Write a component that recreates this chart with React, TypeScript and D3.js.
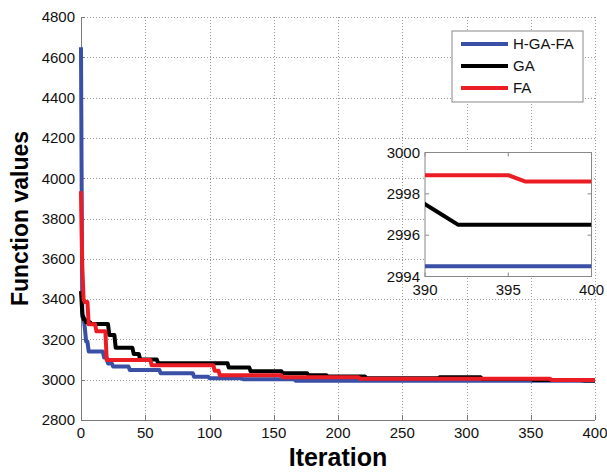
import React from 'react';
import * as d3 from 'd3';

// ---- data ----
const iterTicks = [0, 50, 100, 150, 200, 250, 300, 350, 400];
const valueTicks = [2800, 3000, 3200, 3400, 3600, 3800, 4000, 4200, 4400, 4600, 4800];
const insetIterTicks = [390, 395, 400];
const insetValueTicks = [2994, 2996, 2998, 3000];
const seriesNames = ['H-GA-FA', 'GA', 'FA'];

// change points [iteration, best function value]
const hgafa: [number, number][] = [
  [0, 4650], [1, 3313], [3, 3257], [4, 3189], [6, 3140], [18, 3110], [21, 3081],
  [25, 3065], [38, 3048], [62, 3032], [88, 3015], [100, 3007], [126, 3002], [167, 2994.5],
];
const ga: [number, number][] = [
  [0, 3440], [1, 3330], [2, 3300], [4, 3285], [8, 3276], [22, 3222], [27, 3158],
  [41, 3128], [46, 3100], [60, 3082], [115, 3060], [132, 3042], [157, 3032],
  [177, 3022], [192, 3016], [222, 3007], [279, 3012], [312, 3004], [352, 2998],
  [390, 2997.5], [391, 2997], [392, 2996.5],
];
const fa: [number, number][] = [
  [0, 3935], [1, 3560], [2, 3400], [3, 3385], [6, 3275], [12, 3240], [20, 3098],
  [55, 3072], [104, 3045], [108, 3022], [157, 3012], [217, 3005], [366, 2998.9],
  [396, 2998.6],
];
const lastIter = 400;

const colors = ['#3a4fa6', '#000000', '#ec1c24'];

function toVertices(pts: [number, number][]): [number, number][] {
  const out: [number, number][] = [pts[0]];
  for (let i = 1; i < pts.length; i++) {
    const [k, v] = pts[i];
    const prev = out[out.length - 1];
    if (k - 1 > prev[0]) out.push([k - 1, prev[1]]);
    out.push([k, v]);
  }
  const last = out[out.length - 1];
  if (last[0] < lastIter) out.push([lastIter, last[1]]);
  return out;
}

export default function App() {
  const W = 607, H = 473;
  const x = d3.scaleLinear().domain([0, 400]).range([81, 595]);
  const y = d3.scaleLinear().domain([2800, 4800]).range([420, 17]);
  const xi = d3.scaleLinear().domain([390, 400]).range([425, 591.5]);
  const yi = d3.scaleLinear().domain([2994, 3000]).range([276.5, 152.5]);

  const series = [hgafa, ga, fa].map(toVertices);
  const line = d3.line<[number, number]>().x(d => x(d[0])).y(d => y(d[1]));
  const lineI = d3.line<[number, number]>().x(d => xi(d[0])).y(d => yi(d[1]));

  const font = '"Liberation Sans", Arial, Helvetica, sans-serif';
  const grid = { stroke: '#9a9a9a', strokeWidth: 1, strokeDasharray: '1 2' };
  const axisColor = '#7a7a7a';

  return (
    <svg width={W} height={H} style={{ position: 'absolute', left: 0, top: 0, background: '#fff' }} fontFamily={font}>
      <defs>
        <clipPath id="insetClip">
          <rect x={xi(390)} y={yi(3000)} width={xi(400) - xi(390)} height={yi(2994) - yi(3000)} />
        </clipPath>
      </defs>
      {/* grid */}
      {iterTicks.filter(t => t > 0).map(t => (
        <line key={'gx' + t} x1={Math.round(x(t)) + 0.5} x2={Math.round(x(t)) + 0.5} y1={y(4800)} y2={y(2800)} {...grid} />
      ))}
      {valueTicks.filter(t => t > 2800).map(t => (
        <line key={'gy' + t} x1={x(0)} x2={x(400)} y1={Math.round(y(t)) + 0.5} y2={Math.round(y(t)) + 0.5} {...grid} />
      ))}
      {/* axes */}
      <line x1={x(0) + 0.5} x2={x(0) + 0.5} y1={y(4800)} y2={y(2800)} stroke={axisColor} />
      <line x1={x(0)} x2={x(400)} y1={y(2800) + 0.5} y2={y(2800) + 0.5} stroke={axisColor} />
      {valueTicks.map(t => (
        <g key={'ty' + t}>
          <line x1={x(0)} x2={x(0) + 4} y1={Math.round(y(t)) + 0.5} y2={Math.round(y(t)) + 0.5} stroke={axisColor} />
          <text x={75} y={y(t) + 5.3} textAnchor="end" fontSize={15} fill="#111">{t}</text>
        </g>
      ))}
      {iterTicks.map(t => (
        <g key={'tx' + t}>
          <line x1={Math.round(x(t)) + 0.5} x2={Math.round(x(t)) + 0.5} y1={y(2800)} y2={y(2800) - 5} stroke={axisColor} />
          <text x={x(t)} y={438} textAnchor="middle" fontSize={15} fill="#111">{t}</text>
        </g>
      ))}
      {/* series */}
      {series.map((s, i) => (
        <path key={'s' + i} d={line(s) || ''} fill="none" stroke={colors[i]} strokeWidth={4} strokeLinejoin="round" />
      ))}
      {/* axis titles */}
      <text x={338} y={466} textAnchor="middle" fontSize={25} fontWeight="bold" fill="#000">Iteration</text>
      <text transform={`translate(28,${(y(4800) + y(2800)) / 2}) rotate(-90)`} textAnchor="middle" fontSize={23} fontWeight="bold" fill="#000">Function values</text>
      {/* legend */}
      <rect x={452} y={31} width={131} height={71} fill="#fff" stroke="#888" />
      {seriesNames.map((n, i) => (
        <g key={'lg' + i}>
          <line x1={461} x2={508} y1={44 + i * 22} y2={44 + i * 22} stroke={colors[i]} strokeWidth={4} />
          <text x={513} y={44 + i * 22 + 5.3} fontSize={15} fill="#111">{n}</text>
        </g>
      ))}
      {/* inset */}
      <rect x={xi(390)} y={yi(3000)} width={xi(400) - xi(390)} height={yi(2994) - yi(3000)} fill="#fff" stroke="#888" />
      <g clipPath="url(#insetClip)">
        {series.map((s, i) => (
          <path key={'si' + i} d={lineI(s) || ''} fill="none" stroke={colors[i]} strokeWidth={4} strokeLinejoin="round" />
        ))}
      </g>
      {insetValueTicks.map(t => (
        <g key={'iy' + t}>
          <line x1={xi(390)} x2={xi(390) + 4} y1={yi(t)} y2={yi(t)} stroke="#888" />
          <line x1={xi(400) - 4} x2={xi(400)} y1={yi(t)} y2={yi(t)} stroke="#888" />
          <text x={420} y={yi(t) + 5.3} textAnchor="end" fontSize={15} fill="#111">{t}</text>
        </g>
      ))}
      {insetIterTicks.map(t => (
        <g key={'ix' + t}>
          <line x1={xi(t)} x2={xi(t)} y1={yi(2994)} y2={yi(2994) - 4} stroke="#888" />
          <line x1={xi(t)} x2={xi(t)} y1={yi(3000)} y2={yi(3000) + 4} stroke="#888" />
          <text x={xi(t)} y={295} textAnchor="middle" fontSize={15} fill="#111">{t}</text>
        </g>
      ))}
    </svg>
  );
}
